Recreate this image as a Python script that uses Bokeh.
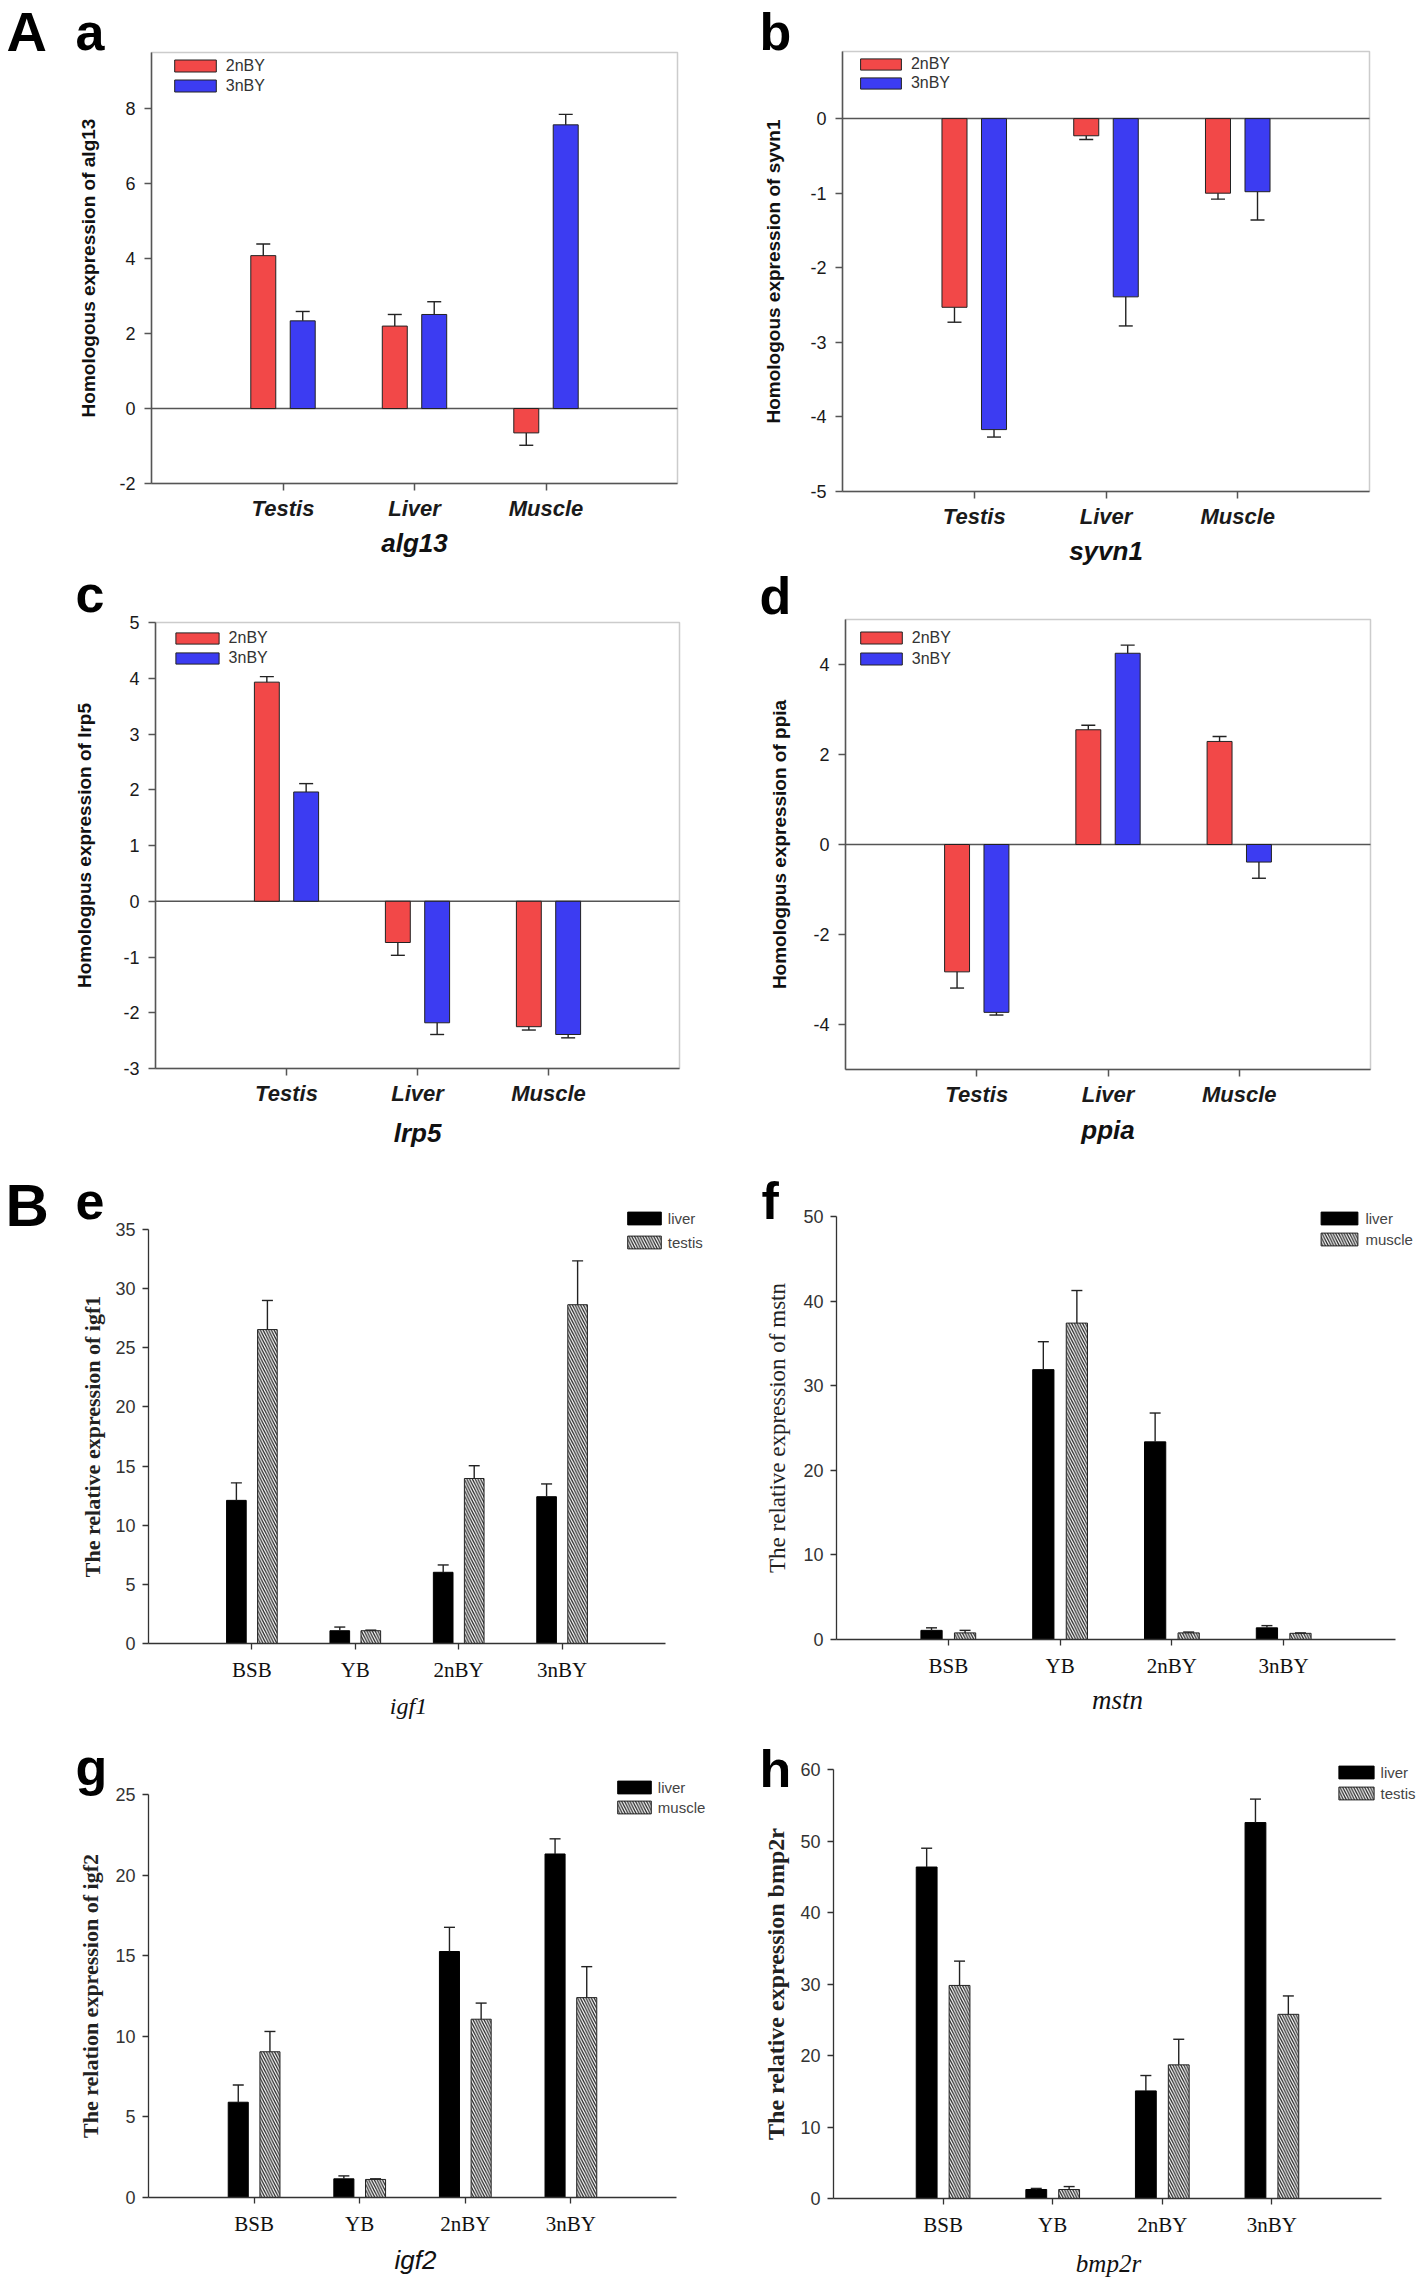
import math
from bokeh.plotting import figure
from bokeh.models import (Label, Legend, LegendItem, FixedTicker, LinearAxis,
                          Range1d, BoxAnnotation)
from bokeh.layouts import column, row
from bokeh.embed import file_html
from bokeh.resources import INLINE

# ---------------- data ----------------
tissues = ["Testis", "Liver", "Muscle"]
fish = ["BSB", "YB", "2nBY", "3nBY"]

alg13_2n = [4.08, 2.20, -0.65]
alg13_2n_err = [0.31, 0.31, 0.33]
alg13_3n = [2.34, 2.51, 7.57]
alg13_3n_err = [0.25, 0.34, 0.28]

syvn1_2n = [-2.53, -0.23, -1.00]
syvn1_2n_err = [0.20, 0.05, 0.08]
syvn1_3n = [-4.17, -2.39, -0.98]
syvn1_3n_err = [0.10, 0.39, 0.38]

lrp5_2n = [3.93, -0.74, -2.25]
lrp5_2n_err = [0.10, 0.23, 0.06]
lrp5_3n = [1.96, -2.18, -2.39]
lrp5_3n_err = [0.15, 0.21, 0.06]

ppia_2n = [-2.83, 2.55, 2.29]
ppia_2n_err = [0.36, 0.10, 0.11]
ppia_3n = [-3.73, 4.25, -0.39]
ppia_3n_err = [0.06, 0.18, 0.36]

igf1_liver = [12.10, 1.08, 6.02, 12.41]
igf1_liver_err = [1.48, 0.31, 0.62, 1.08]
igf1_testis = [26.54, 1.08, 13.95, 28.64]
igf1_testis_err = [2.46, 0.05, 1.08, 3.71]

mstn_liver = [1.08, 31.90, 23.36, 1.38]
mstn_liver_err = [0.30, 3.30, 3.41, 0.26]
mstn_muscle = [0.78, 37.40, 0.78, 0.73]
mstn_muscle_err = [0.30, 3.85, 0.10, 0.05]

igf2_liver = [5.91, 1.16, 15.26, 21.31]
igf2_liver_err = [1.07, 0.18, 1.50, 0.94]
igf2_muscle = [9.04, 1.12, 11.06, 12.40]
igf2_muscle_err = [1.26, 0.04, 1.00, 1.92]

bmp2r_liver = [46.36, 1.26, 15.05, 52.58]
bmp2r_liver_err = [2.63, 0.15, 2.15, 3.28]
bmp2r_testis = [29.80, 1.26, 18.69, 25.76]
bmp2r_testis_err = [3.40, 0.41, 3.58, 2.57]

# ---------------- styles ----------------
SANS = "Liberation Sans"
SERIF = "Liberation Serif"
RED = "#F24848"
BLUE = "#3C3CF2"


def build(fig_box, frame_box, xr, yr):
    """Figure whose frame fills the canvas; the plotting box is drawn by
    fixed-location axes so that texts around it are never clipped."""
    fl, ft, fr, fb = fig_box
    L, T, R, B = frame_box
    x0, x1 = xr
    y0, y1 = yr
    sx = (x1 - x0) / (R - L)
    sy = (y1 - y0) / (B - T)
    X0, X1 = x0 - (L - fl) * sx, x1 + (fr - R) * sx
    Y0, Y1 = y0 - (fb - B) * sy, y1 + (T - ft) * sy
    p = figure(width=fr - fl, height=fb - ft, x_range=Range1d(X0, X1), y_range=Range1d(Y0, Y1),
               x_axis_type=None, y_axis_type=None, output_backend="svg",
               toolbar_location=None, min_border=0)
    p.outline_line_color = None
    p.background_fill_color = "white"
    p.border_fill_color = "white"

    def D(px, py):
        return X0 + (px - fl) * sx, Y0 + (fb - py) * sy

    xaxis = LinearAxis(fixed_location=y0, bounds=(x0, x1))
    yaxis = LinearAxis(fixed_location=x0, bounds=(y0, y1))
    p.add_layout(xaxis, "below")
    p.add_layout(yaxis, "left")
    return p, D, xaxis, yaxis


def add_series(p, vals, errs, offset, width, cap, err_color, **style):
    xs = [i + 1 + offset for i in range(len(vals))]
    r = p.vbar(x=xs, top=vals, bottom=0, width=width, **style)
    ends = [v + e if v >= 0 else v - e for v, e in zip(vals, errs)]
    p.segment(x0=xs, y0=vals, x1=xs, y1=ends, line_color=err_color, line_width=1.4)
    p.scatter(x=xs, y=ends, marker="dash", size=cap, line_color=err_color, line_width=1.4)
    return r


def text(p, D, s, px, base_y, size, font=SANS, style="bold", align="left", color="black"):
    """Horizontal text whose alphabetic baseline sits at page y = base_y."""
    x, y = D(px, base_y - 0.365 * size)
    p.add_layout(Label(x=x, y=y, text=s, text_font=font, text_font_size=f"{size}px",
                       text_font_style=style, text_align=align,
                       text_baseline="alphabetic", text_color=color))


def vtext(p, D, s, px, py, size, font, style, color):
    x, y = D(px, py)
    p.add_layout(Label(x=x, y=y, text=s, text_font=font, text_font_size=size,
                       text_font_style=style, text_align="center", angle=math.pi / 2,
                       text_baseline="middle", text_color=color))


def add_legend(p, fig_box, label, r, swl, swt, sw, sh, font, size, color, standoff):
    fl, ft, fr, fb = fig_box
    gw = int(round(sw / 0.8))
    gh = int(round(sh / 0.8))
    lh = 20
    box_left = swl - 0.1 * gw
    box_top = swt - 0.1 * gh
    lg = Legend(items=[LegendItem(label=label, renderers=[r])],
                location=(box_left - fl, fb - (box_top + lh)),
                glyph_width=gw, glyph_height=gh, label_height=lh,
                label_standoff=standoff, padding=0, margin=0, spacing=0,
                border_line_color=None, background_fill_alpha=0,
                label_text_font=font, label_text_font_size=size, label_text_color=color)
    p.add_layout(lg)


def style_axes(xaxis, yaxis, color, width, tick_out):
    for ax in (xaxis, yaxis):
        ax.axis_line_color = color
        ax.axis_line_width = width
        ax.major_tick_line_color = color
        ax.major_tick_line_width = width
        ax.major_tick_out = tick_out
        ax.major_tick_in = 0
        ax.minor_tick_line_color = None


def panel_top(fig_box, frame_box, yr, yticks, s2, e2, s3, e3, ylabel, ylab_x,
              xtitle, xtitle_base, letters, legs):
    p, D, xaxis, yaxis = build(fig_box, frame_box, (0, 4), yr)
    L, T, R, B = frame_box
    y0, y1 = yr
    p.line(x=[0, 4], y=[0, 0], line_color="#555555", line_width=1.5)
    r2 = add_series(p, s2, e2, -0.15, 0.19, 14, "#222222", fill_color=RED,
                    line_color="#222222", line_width=1)
    r3 = add_series(p, s3, e3, 0.15, 0.19, 14, "#222222", fill_color=BLUE,
                    line_color="#222222", line_width=1)
    p.add_layout(BoxAnnotation(left=0, right=4, bottom=y0, top=y1, fill_alpha=0,
                               line_color="#555555", line_width=1.5))
    style_axes(xaxis, yaxis, "#555555", 1.5, 7)
    xaxis.ticker = FixedTicker(ticks=[1, 2, 3])
    xaxis.major_label_overrides = {i + 1: t for i, t in enumerate(tissues)}
    xaxis.major_label_text_font = SANS
    xaxis.major_label_text_font_style = "bold italic"
    xaxis.major_label_text_font_size = "22px"
    xaxis.major_label_text_color = "#1a1a1a"
    xaxis.major_label_standoff = 5
    yaxis.ticker = FixedTicker(ticks=yticks)
    yaxis.major_label_overrides = {t: str(t) for t in yticks}
    yaxis.major_label_text_font = SANS
    yaxis.major_label_text_font_size = "18px"
    yaxis.major_label_text_color = "#1a1a1a"
    yaxis.major_label_standoff = 9
    vtext(p, D, ylabel, ylab_x, (T + B) / 2, "19px", SANS, "bold", "#111111")
    text(p, D, xtitle, (L + R) / 2, xtitle_base, 26, SANS, "bold italic", "center", "#111111")
    for s, px, py, sz in letters:
        text(p, D, s, px, py, sz)
    (sl, st1, st2, sw, sh) = legs
    add_legend(p, fig_box, "2nBY", r2, sl, st1 - 6, sw, sh, SANS, "16px", "#333333", 5)
    add_legend(p, fig_box, "3nBY", r3, sl, st2 - 6, sw, sh, SANS, "16px", "#333333", 5)
    return p


def panel_bottom(fig_box, frame_box, yr, yticks, s1, e1, s2, e2, lab2, ylabel, ylab_style,
                 ylab_size, ylab_x, xtitle, xtitle_font, xtitle_size, xtitle_x, xtitle_base,
                 letters, legs):
    p, D, xaxis, yaxis = build(fig_box, frame_box, (0, 5), yr)
    L, T, R, B = frame_box
    r1 = add_series(p, s1, e1, -0.15, 0.19, 11, "#222222", fill_color="black",
                    line_color="black", line_width=1)
    r2 = add_series(p, s2, e2, 0.15, 0.19, 11, "#222222", fill_color="white",
                    line_color="#222222", line_width=1, hatch_pattern="left_diagonal_line",
                    hatch_color="#2a2a2a", hatch_scale=5.5, hatch_weight=1.3)
    style_axes(xaxis, yaxis, "#333333", 1.3, 6)
    xaxis.ticker = FixedTicker(ticks=[1, 2, 3, 4])
    xaxis.major_label_overrides = {i + 1: f for i, f in enumerate(fish)}
    xaxis.major_label_text_font = SERIF
    xaxis.major_label_text_font_size = "21px"
    xaxis.major_label_text_color = "#111111"
    xaxis.major_label_standoff = 8
    yaxis.ticker = FixedTicker(ticks=yticks)
    yaxis.major_label_overrides = {t: str(t) for t in yticks}
    yaxis.major_label_text_font = SANS
    yaxis.major_label_text_font_size = "18px"
    yaxis.major_label_text_color = "#333333"
    yaxis.major_label_standoff = 7
    vtext(p, D, ylabel, ylab_x, (T + B) / 2, ylab_size, SERIF, ylab_style, "#222222")
    text(p, D, xtitle, xtitle_x, xtitle_base, xtitle_size, xtitle_font, "italic", "center", "#111111")
    for s, px, py, sz in letters:
        text(p, D, s, px, py, sz)
    (sl, st1, st2, sw, sh) = legs
    add_legend(p, fig_box, "liver", r1, sl, st1 - 3, sw, sh, SANS, "15px", "#444444", 3)
    add_legend(p, fig_box, lab2, r2, sl, st2 - 3, sw, sh, SANS, "15px", "#444444", 3)
    return p


# left column
pa = panel_top((0, 0, 709, 560), (151, 52, 677, 483), (-2, 9.5), [-2, 0, 2, 4, 6, 8],
               alg13_2n, alg13_2n_err, alg13_3n, alg13_3n_err,
               "Homologous expression of alg13", 88, "alg13", 551.5,
               [("A", 6, 51, 56), ("a", 75, 50, 52)], (174, 63, 83, 42, 12))
pc = panel_top((0, 560, 709, 1160), (155, 622, 679, 1068), (-3, 5), [-3, -2, -1, 0, 1, 2, 3, 4, 5],
               lrp5_2n, lrp5_2n_err, lrp5_3n, lrp5_3n_err,
               "Homologpus expression of lrp5", 84, "lrp5", 1141.5,
               [("c", 75, 612, 52)], (175, 635, 655, 43, 11))
pe = panel_bottom((0, 1160, 709, 1727), (148, 1229, 665, 1643), (0, 35), [0, 5, 10, 15, 20, 25, 30, 35],
                  igf1_liver, igf1_liver_err, igf1_testis, igf1_testis_err, "testis",
                  "The relative expression of igf1", "bold", "22px", 92,
                  "igf1", SERIF, 24, 408, 1714,
                  [("B", 5, 1227, 60), ("e", 75, 1219, 52)], (627, 1213, 1237, 34, 13))
pg = panel_bottom((0, 1727, 709, 2284), (148, 1794, 676, 2197), (0, 25), [0, 5, 10, 15, 20, 25],
                  igf2_liver, igf2_liver_err, igf2_muscle, igf2_muscle_err, "muscle",
                  "The relation expression of igf2", "bold", "22px", 90,
                  "igf2", SANS, 26, 415, 2268.5,
                  [("g", 75, 1785, 52)], (617, 1782, 1802, 34, 13))

# right column
pb = panel_top((709, 0, 1418, 566), (842, 51, 1369, 491), (-5, 0.9), [-5, -4, -3, -2, -1, 0],
               syvn1_2n, syvn1_2n_err, syvn1_3n, syvn1_3n_err,
               "Homologous expression of syvn1", 773, "syvn1", 559.5,
               [("b", 759, 50, 52)], (860, 61, 80, 41, 11))
pd = panel_top((709, 566, 1418, 1158), (845, 619, 1370, 1069), (-5, 5), [-4, -2, 0, 2, 4],
               ppia_2n, ppia_2n_err, ppia_3n, ppia_3n_err,
               "Homologpus expression of ppia", 779, "ppia", 1139,
               [("d", 759, 614, 52)], (860, 635, 656, 42, 12))
pf = panel_bottom((709, 1158, 1418, 1725), (836, 1216, 1395, 1639), (0, 50), [0, 10, 20, 30, 40, 50],
                  mstn_liver, mstn_liver_err, mstn_muscle, mstn_muscle_err, "muscle",
                  "The relative expression of mstn", "normal", "23px", 777,
                  "mstn", SERIF, 27, 1117, 1709,
                  [("f", 761, 1219, 52)], (1321, 1213, 1234, 37, 13))
ph = panel_bottom((709, 1725, 1418, 2284), (833, 1769, 1381, 2198), (0, 60), [0, 10, 20, 30, 40, 50, 60],
                  bmp2r_liver, bmp2r_liver_err, bmp2r_testis, bmp2r_testis_err, "testis",
                  "The relative expression bmp2r", "bold", "24px", 775,
                  "bmp2r", SERIF, 25, 1108, 2272,
                  [("h", 759, 1787, 52)], (1338, 1767, 1788, 35, 13))

layout = row(column(pa, pc, pe, pg), column(pb, pd, pf, ph))
open("out.html", "w").write(file_html(layout, INLINE))
